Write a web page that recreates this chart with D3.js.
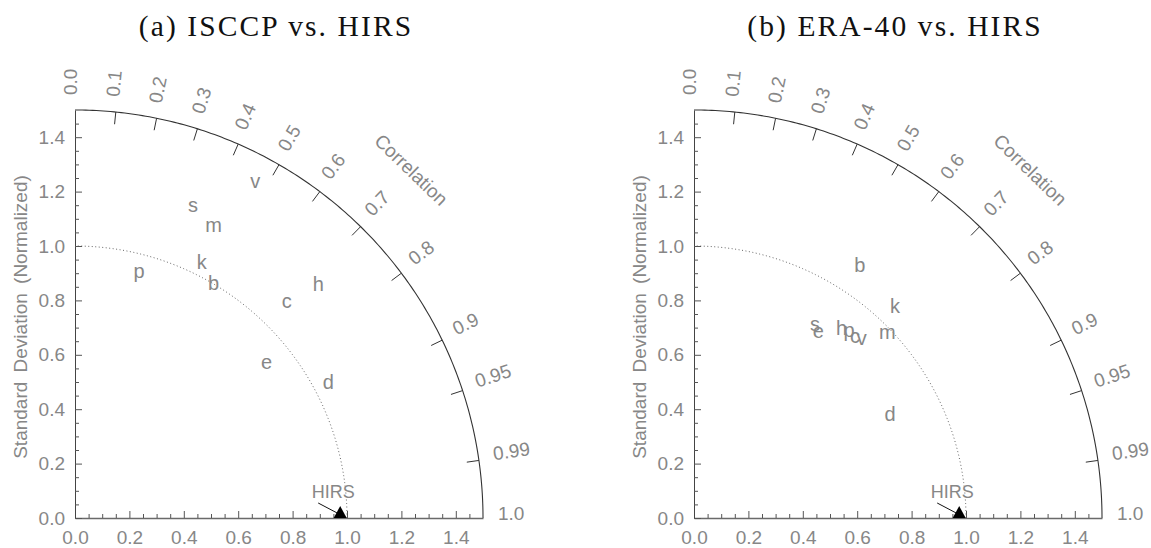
<!DOCTYPE html>
<html>
<head>
<meta charset="utf-8">
<script src="https://cdn.jsdelivr.net/npm/d3@7/dist/d3.min.js"></script>
<style>
  body { margin: 0; background: #ffffff; }
</style>
</head>
<body>
<div id="canvas"></div>
<script>
// ---- data ----
const panelTitles = ["(a) ISCCP vs. HIRS", "(b) ERA-40 vs. HIRS"];
const caseLabels = ["b", "c", "d", "e", "h", "k", "m", "p", "s", "v"];
// normalized standard deviation and correlation of each case
const isccpStd  = [1.004, 1.115, 1.057, 0.908, 1.241, 1.049, 1.190, 0.939, 1.228, 1.406];
const isccpCorr = [0.507, 0.698, 0.881, 0.776, 0.721, 0.444, 0.428, 0.251, 0.353, 0.471];
const eraStd    = [1.111, 0.893, 0.815, 0.827, 0.884, 1.075, 0.986, 0.896, 0.841, 0.904];
const eraCorr   = [0.549, 0.663, 0.884, 0.553, 0.614, 0.687, 0.721, 0.636, 0.529, 0.682];
// reference (HIRS) marker and its dotted std circle
const hirsStd = 0.975;
const refArcStd = 1.0;
// axis ticks
const stdTicks = [0.0, 0.2, 0.4, 0.6, 0.8, 1.0, 1.2, 1.4];
const corrTickLabels = ["0.0", "0.1", "0.2", "0.3", "0.4", "0.5", "0.6", "0.7", "0.8", "0.9", "0.95", "0.99", "1.0"];
const stdMax = 1.5;

const grayText = "#878787";
const sansFont = "Liberation Sans, Arial, sans-serif";

class TaylorDiagramCreator {
    constructor(svg, originX, title, stds, corrs) {
        this.svg = svg;
        this.originX = originX;
        this.originY = 518;
        this.plotSize = 408;
        this.title = title;
        this.stds = stds;
        this.corrs = corrs;
    }

    GetXScale() {
        return d3.scaleLinear()
            .domain([0, stdMax])
            .range([this.originX, this.originX + this.plotSize]);
    }

    GetYScale() {
        return d3.scaleLinear()
            .domain([0, stdMax])
            .range([this.originY, this.originY - this.plotSize]);
    }

    // polar (std, corr) -> screen
    PolarX(xScale, std, corr) { return xScale(std * corr); }
    PolarY(yScale, std, corr) { return yScale(std * Math.sqrt(Math.max(0, 1 - corr * corr))); }

    DrawTitle(g) {
        g.append("text")
            .attr("x", this.originX + 201)
            .attr("y", 36)
            .attr("text-anchor", "middle")
            .attr("font-family", "Liberation Serif, Times New Roman, serif")
            .attr("font-size", "29.5px")
            .attr("letter-spacing", "2.1px")
            .attr("fill", "#111")
            .text(this.title);
    }

    DrawXAxis(g, xScale) {
        let minor = d3.range(0.05, stdMax, 0.05).filter(v => Math.abs(v * 5 - Math.round(v * 5)) > 1e-6);
        let ax = g.append("g")
            .attr("class", "axis axis--x")
            .attr("transform", "translate(0," + this.originY + ")")
            .call(d3.axisBottom(xScale)
                .tickValues(stdTicks)
                .tickFormat(d3.format(".1f"))
                .tickSize(-7)
                .tickSizeOuter(0)
                .tickPadding(13));
        let axMinor = g.append("g")
            .attr("transform", "translate(0," + this.originY + ")")
            .call(d3.axisBottom(xScale).tickValues(minor).tickFormat("").tickSize(-4).tickSizeOuter(0));
        axMinor.select(".domain").remove();
        ax.select(".domain").style("stroke", "#6a6a6a").style("stroke-width", "1.6");
        [ax, axMinor].forEach(a => a.selectAll(".tick line").style("stroke", "#555"));
        ax.selectAll("text")
            .attr("font-family", sansFont)
            .attr("font-size", "19px")
            .attr("fill", grayText);
    }

    DrawYAxis(g, yScale) {
        let minor = d3.range(0.05, stdMax, 0.05).filter(v => Math.abs(v * 5 - Math.round(v * 5)) > 1e-6);
        let ax = g.append("g")
            .attr("class", "axis axis--y")
            .attr("transform", "translate(" + this.originX + ",0)")
            .call(d3.axisLeft(yScale)
                .tickValues(stdTicks)
                .tickFormat(d3.format(".1f"))
                .tickSize(-7)
                .tickSizeOuter(0)
                .tickPadding(10));
        let axMinor = g.append("g")
            .attr("transform", "translate(" + this.originX + ",0)")
            .call(d3.axisLeft(yScale).tickValues(minor).tickFormat("").tickSize(-4).tickSizeOuter(0));
        axMinor.select(".domain").remove();
        ax.select(".domain").style("stroke", "#444");
        [ax, axMinor].forEach(a => a.selectAll(".tick line").style("stroke", "#555"));
        ax.selectAll("text")
            .attr("font-family", sansFont)
            .attr("font-size", "19px")
            .attr("fill", grayText);

        // y title
        g.append("text")
            .attr("transform", "translate(" + (this.originX - 55) + "," + 317 + ") rotate(-90)")
            .attr("text-anchor", "middle")
            .attr("dominant-baseline", "central")
            .attr("font-family", sansFont)
            .attr("font-size", "19px")
            .attr("word-spacing", "4px")
            .attr("fill", grayText)
            .text("Standard Deviation (Normalized)");
    }

    // arc of constant std
    ArcPath(xScale, yScale, r) {
        let line = d3.line()
            .x(a => xScale(r * Math.cos(a)))
            .y(a => yScale(r * Math.sin(a)));
        return line(d3.range(0, 90.25, 0.5).map(d => d * Math.PI / 180));
    }

    DrawCorrelationArc(g, xScale, yScale) {
        g.append("path")
            .attr("d", this.ArcPath(xScale, yScale, stdMax))
            .attr("fill", "none")
            .attr("stroke", "#333")
            .attr("stroke-width", 1.1);

        // reference std circle (dotted)
        g.append("path")
            .attr("d", this.ArcPath(xScale, yScale, refArcStd))
            .attr("fill", "none")
            .attr("stroke", "#666")
            .attr("stroke-width", 1)
            .attr("stroke-dasharray", "1,2.5");

        let corrVals = corrTickLabels.map(d => +d);
        // inward ticks
        g.selectAll(".corr-tick")
            .data(corrVals.filter(c => c > 0 && c < 1))
            .enter().append("line")
            .attr("class", "corr-tick")
            .attr("x1", c => this.PolarX(xScale, stdMax, c))
            .attr("y1", c => this.PolarY(yScale, stdMax, c))
            .attr("x2", c => this.PolarX(xScale, stdMax - 0.045, c))
            .attr("y2", c => this.PolarY(yScale, stdMax - 0.045, c))
            .attr("stroke", "#333");

        // labels, rotated along the radial direction
        g.selectAll(".corr-label")
            .data(corrTickLabels)
            .enter().append("text")
            .attr("class", "corr-label")
            .attr("transform", d => {
                let c = +d;
                let deg = Math.acos(c) * 180 / Math.PI;
                return "translate(" + this.PolarX(xScale, 1.555, c) + "," + this.PolarY(yScale, 1.555, c) + ") rotate(" + (-deg) + ")";
            })
            .attr("dy", "2px")
            .attr("font-family", sansFont)
            .attr("font-size", "19px")
            .attr("fill", grayText)
            .text(d => d);

        // "Correlation" title along the arc
        let ang = 46 * Math.PI / 180;
        g.append("text")
            .attr("transform", "translate(" + xScale(1.779 * Math.cos(ang)) + "," + yScale(1.779 * Math.sin(ang)) + ") rotate(44)")
            .attr("text-anchor", "middle")
            .attr("dominant-baseline", "central")
            .attr("font-family", sansFont)
            .attr("font-size", "19px")
            .attr("fill", grayText)
            .text("Correlation");
    }

    DrawPoints(g, xScale, yScale) {
        let pts = caseLabels.map((lab, i) => ({ lab: lab, std: this.stds[i], corr: this.corrs[i] }));
        g.selectAll(".case")
            .data(pts)
            .enter().append("text")
            .attr("class", "case")
            .attr("x", d => this.PolarX(xScale, d.std, d.corr))
            .attr("y", d => this.PolarY(yScale, d.std, d.corr))
            .attr("text-anchor", "middle")
            .attr("dominant-baseline", "central")
            .attr("font-family", sansFont)
            .attr("font-size", "20px")
            .attr("fill", grayText)
            .text(d => d.lab);
    }

    DrawReference(g, xScale, yScale) {
        let px = xScale(hirsStd);
        let py = yScale(0);
        g.append("path")
            .attr("d", "M-6.5,0L6.5,0L0,-12Z")
            .attr("transform", "translate(" + px + "," + py + ")")
            .attr("fill", "#000");
        g.append("line")
            .attr("x1", px - 22).attr("y1", py - 15)
            .attr("x2", px - 3).attr("y2", py - 5)
            .attr("stroke", "#111");
        g.append("text")
            .attr("x", px - 7)
            .attr("y", py - 20)
            .attr("text-anchor", "middle")
            .attr("font-family", sansFont)
            .attr("font-size", "18px")
            .attr("fill", grayText)
            .text("HIRS");
    }

    DrawChart() {
        let g = this.svg.append("g");
        let xScale = this.GetXScale();
        let yScale = this.GetYScale();
        this.DrawTitle(g);
        this.DrawCorrelationArc(g, xScale, yScale);
        this.DrawXAxis(g, xScale);
        this.DrawYAxis(g, yScale);
        this.DrawPoints(g, xScale, yScale);
        this.DrawReference(g, xScale, yScale);
    }
}

let svg = d3.select("#canvas").append("svg")
    .attr("width", 1151)
    .attr("height", 548)
    .style("background", "#fff");

new TaylorDiagramCreator(svg, 75, panelTitles[0], isccpStd, isccpCorr).DrawChart();
new TaylorDiagramCreator(svg, 694, panelTitles[1], eraStd, eraCorr).DrawChart();
</script>
</body>
</html>
